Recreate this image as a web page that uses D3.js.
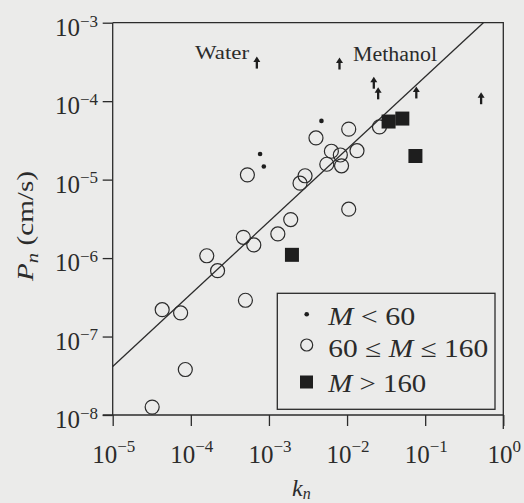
<!DOCTYPE html>
<html>
<head>
<meta charset="utf-8">
<script src="https://cdn.jsdelivr.net/npm/d3@7"></script>
<style>
  html, body { margin: 0; padding: 0; background: #ebebea; }
  svg { display: block; font-family: "Liberation Serif", "DejaVu Serif", serif; }
</style>
</head>
<body>
<div id="chart"></div>
<script>
const width = 524;
const height = 503;
const ink = "#2b2b2b";

// 60 <= M <= 160 (open circles)
const kMid = [3.2e-5, 4.3e-5, 7.4e-5, 8.5e-5, 1.6e-4, 2.2e-4, 5.0e-4, 4.7e-4, 6.4e-4, 5.3e-4,
              1.3e-3, 1.9e-3, 2.5e-3, 2.9e-3, 4.0e-3, 5.5e-3, 6.3e-3, 8.2e-3, 8.5e-3, 1.05e-2,
              1.05e-2, 1.34e-2, 2.6e-2];
const pMid = [1.26e-8, 2.2e-7, 2.0e-7, 3.8e-8, 1.07e-6, 6.9e-7, 2.9e-7, 1.84e-6, 1.47e-6, 1.15e-5,
              2.03e-6, 3.1e-6, 9.0e-6, 1.12e-5, 3.4e-5, 1.57e-5, 2.3e-5, 2.06e-5, 1.5e-5, 4.2e-6,
              4.4e-5, 2.34e-5, 4.7e-5];
// M < 60 (small dots)
const kSmall = [7.7e-4, 8.6e-4, 4.7e-3];
const pSmall = [2.12e-5, 1.47e-5, 5.6e-5];
// M > 160 (filled squares)
const kLarge = [1.97e-3, 3.4e-2, 5.1e-2, 7.5e-2];
const pLarge = [1.1e-6, 5.5e-5, 6.0e-5, 2.0e-5];
// lower bounds (arrows), tip position
const kArrow = [7.0e-4, 8.0e-3, 2.2e-2, 2.5e-2, 7.7e-2, 0.52];
const pArrow = [3.7e-4, 3.6e-4, 2.05e-4, 1.5e-4, 1.54e-4, 1.3e-4];
// fitted line end points
const kFit = [1e-5, 0.556];
const pFit = [4.15e-8, 1e-3];

const xTicks = [1e-5, 1e-4, 1e-3, 1e-2, 1e-1, 1];
const xTickExp = ["\u22125", "\u22124", "\u22123", "\u22122", "\u22121", "0"];
const yTicks = [1e-8, 1e-7, 1e-6, 1e-5, 1e-4, 1e-3];
const yTickExp = ["\u22128", "\u22127", "\u22126", "\u22125", "\u22124", "\u22123"];

const plotLeft = 112.7, plotRight = 503.3, plotTop = 22.7, plotBottom = 415;

const svg = d3.select("#chart").append("svg")
    .attr("width", width)
    .attr("height", height);

svg.append("rect").attr("width", width).attr("height", height).attr("fill", "#ebebea");

const x = d3.scaleLog().domain([1e-5, 1]).range([plotLeft, plotRight]);
const y = d3.scaleLog().domain([1e-8, 1e-3]).range([plotBottom, plotTop]);

// frame
svg.append("path")
    .attr("d", `M${plotLeft},${plotTop}H${plotRight}V${plotBottom + 14}`)
    .attr("fill", "none").attr("stroke", ink).attr("stroke-width", 1.3);

const xAxis = svg.append("g")
    .attr("transform", `translate(0,${plotBottom})`)
    .call(d3.axisBottom(x).tickValues(xTicks).tickSize(11).tickSizeOuter(0).tickFormat(""));
const yAxis = svg.append("g")
    .attr("transform", `translate(${plotLeft},0)`)
    .call(d3.axisLeft(y).tickValues(yTicks).tickSize(10).tickSizeOuter(0).tickFormat(""));

[xAxis, yAxis].forEach(g => {
    g.selectAll("path, line").attr("stroke", ink).attr("stroke-width", 1.3);
});
xAxis.select(".domain").attr("d", `M${plotLeft - 10},0H${plotRight}`);
yAxis.select(".domain").attr("d", `M0,${plotBottom}V${plotTop}`);

// x tick labels
xTicks.forEach((t, i) => {
    const tx = svg.append("text")
        .attr("x", x(t) + 1)
        .attr("y", 463)
        .attr("text-anchor", "middle")
        .attr("fill", ink)
        .style("font-size", "25px");
    tx.append("tspan").text("10");
    tx.append("tspan").attr("dy", -11.5).style("font-size", "17px").text(xTickExp[i]);
});

// y tick labels
yTicks.forEach((t, i) => {
    const ty = svg.append("text")
        .attr("x", 98)
        .attr("y", y(t) + 13.3)
        .attr("text-anchor", "end")
        .attr("fill", ink)
        .style("font-size", "25px");
    ty.append("tspan").text("10");
    ty.append("tspan").attr("dy", -9.5).style("font-size", "17px").text(yTickExp[i]);
});

// fit line
svg.append("line")
    .attr("x1", x(kFit[0])).attr("y1", y(pFit[0]))
    .attr("x2", x(kFit[1])).attr("y2", y(pFit[1]))
    .attr("stroke", ink).attr("stroke-width", 1.3);

// open circles
svg.selectAll(".mid")
    .data(d3.zip(kMid, pMid))
    .enter().append("circle")
    .attr("class", "mid")
    .attr("cx", d => x(d[0]))
    .attr("cy", d => y(d[1]))
    .attr("r", 7)
    .attr("fill", "none")
    .attr("stroke", ink)
    .attr("stroke-width", 1.2);

// small dots
svg.selectAll(".small")
    .data(d3.zip(kSmall, pSmall))
    .enter().append("circle")
    .attr("class", "small")
    .attr("cx", d => x(d[0]))
    .attr("cy", d => y(d[1]))
    .attr("r", 2.3)
    .attr("fill", "#1e1e1e");

// squares
svg.selectAll(".large")
    .data(d3.zip(kLarge, pLarge))
    .enter().append("rect")
    .attr("class", "large")
    .attr("x", d => x(d[0]) - 7)
    .attr("y", d => y(d[1]) - 7)
    .attr("width", 14)
    .attr("height", 14)
    .attr("fill", "#1e1e1e");

// arrows
const arrows = svg.selectAll(".arrow")
    .data(d3.zip(kArrow, pArrow))
    .enter().append("g")
    .attr("class", "arrow")
    .attr("transform", d => `translate(${x(d[0])},${y(d[1])})`);
arrows.append("line")
    .attr("x1", 0).attr("y1", 3).attr("x2", 0).attr("y2", 12)
    .attr("stroke", "#1e1e1e").attr("stroke-width", 2.3);
arrows.append("path")
    .attr("d", "M-3.5,5.5L0,0L3.5,5.5Z")
    .attr("fill", "#1e1e1e");

// annotations
svg.append("text")
    .attr("x", 195).attr("y", 58.5)
    .attr("fill", ink)
    .attr("textLength", 54)
    .attr("lengthAdjust", "spacingAndGlyphs")
    .style("font-size", "19px")
    .text("Water");
svg.append("text")
    .attr("x", 353).attr("y", 61)
    .attr("fill", ink)
    .attr("textLength", 84)
    .attr("lengthAdjust", "spacingAndGlyphs")
    .style("font-size", "20px")
    .text("Methanol");

// axis titles
const yl = svg.append("text")
    .attr("transform", "translate(33,226) rotate(-90)")
    .attr("text-anchor", "middle")
    .attr("fill", ink)
    .attr("textLength", 110)
    .attr("lengthAdjust", "spacingAndGlyphs")
    .style("font-size", "24px");
yl.append("tspan").style("font-style", "italic").text("P");
yl.append("tspan").attr("dy", 5).style("font-style", "italic").style("font-size", "17px").text("n");
yl.append("tspan").attr("dy", -5).text(" (cm/s)");

const xl = svg.append("text")
    .attr("x", 292).attr("y", 496)
    .attr("fill", ink)
    .style("font-size", "24px");
xl.append("tspan").style("font-style", "italic").text("k");
xl.append("tspan").attr("dy", 3).style("font-style", "italic").style("font-size", "16px").text("n");

// legend
const legend = svg.append("g");
legend.append("rect")
    .attr("x", 277.3).attr("y", 293.3)
    .attr("width", 217.7).attr("height", 116)
    .attr("fill", "none").attr("stroke", ink).attr("stroke-width", 1.3);
legend.append("circle").attr("cx", 306.7).attr("cy", 314.3).attr("r", 2.3).attr("fill", "#1e1e1e");
legend.append("circle").attr("cx", 306.7).attr("cy", 345).attr("r", 6)
    .attr("fill", "none").attr("stroke", ink).attr("stroke-width", 1.2);
legend.append("rect").attr("x", 300).attr("y", 375.5).attr("width", 13).attr("height", 13).attr("fill", "#1e1e1e");

const legRows = [
    { y: 325, w: 87, parts: [["M", true], [" < 60", false]] },
    { y: 356.7, w: 160, parts: [["60 \u2264 ", false], ["M", true], [" \u2264 160", false]] },
    { y: 391.7, w: 98, parts: [["M", true], [" > 160", false]] }
];
legRows.forEach(r => {
    const t = legend.append("text")
        .attr("x", 328.3).attr("y", r.y)
        .attr("fill", ink)
        .attr("textLength", r.w)
        .attr("lengthAdjust", "spacingAndGlyphs")
        .style("font-size", "25px");
    r.parts.forEach(p => {
        t.append("tspan").style("font-style", p[1] ? "italic" : "normal").text(p[0]);
    });
});
</script>
</body>
</html>
